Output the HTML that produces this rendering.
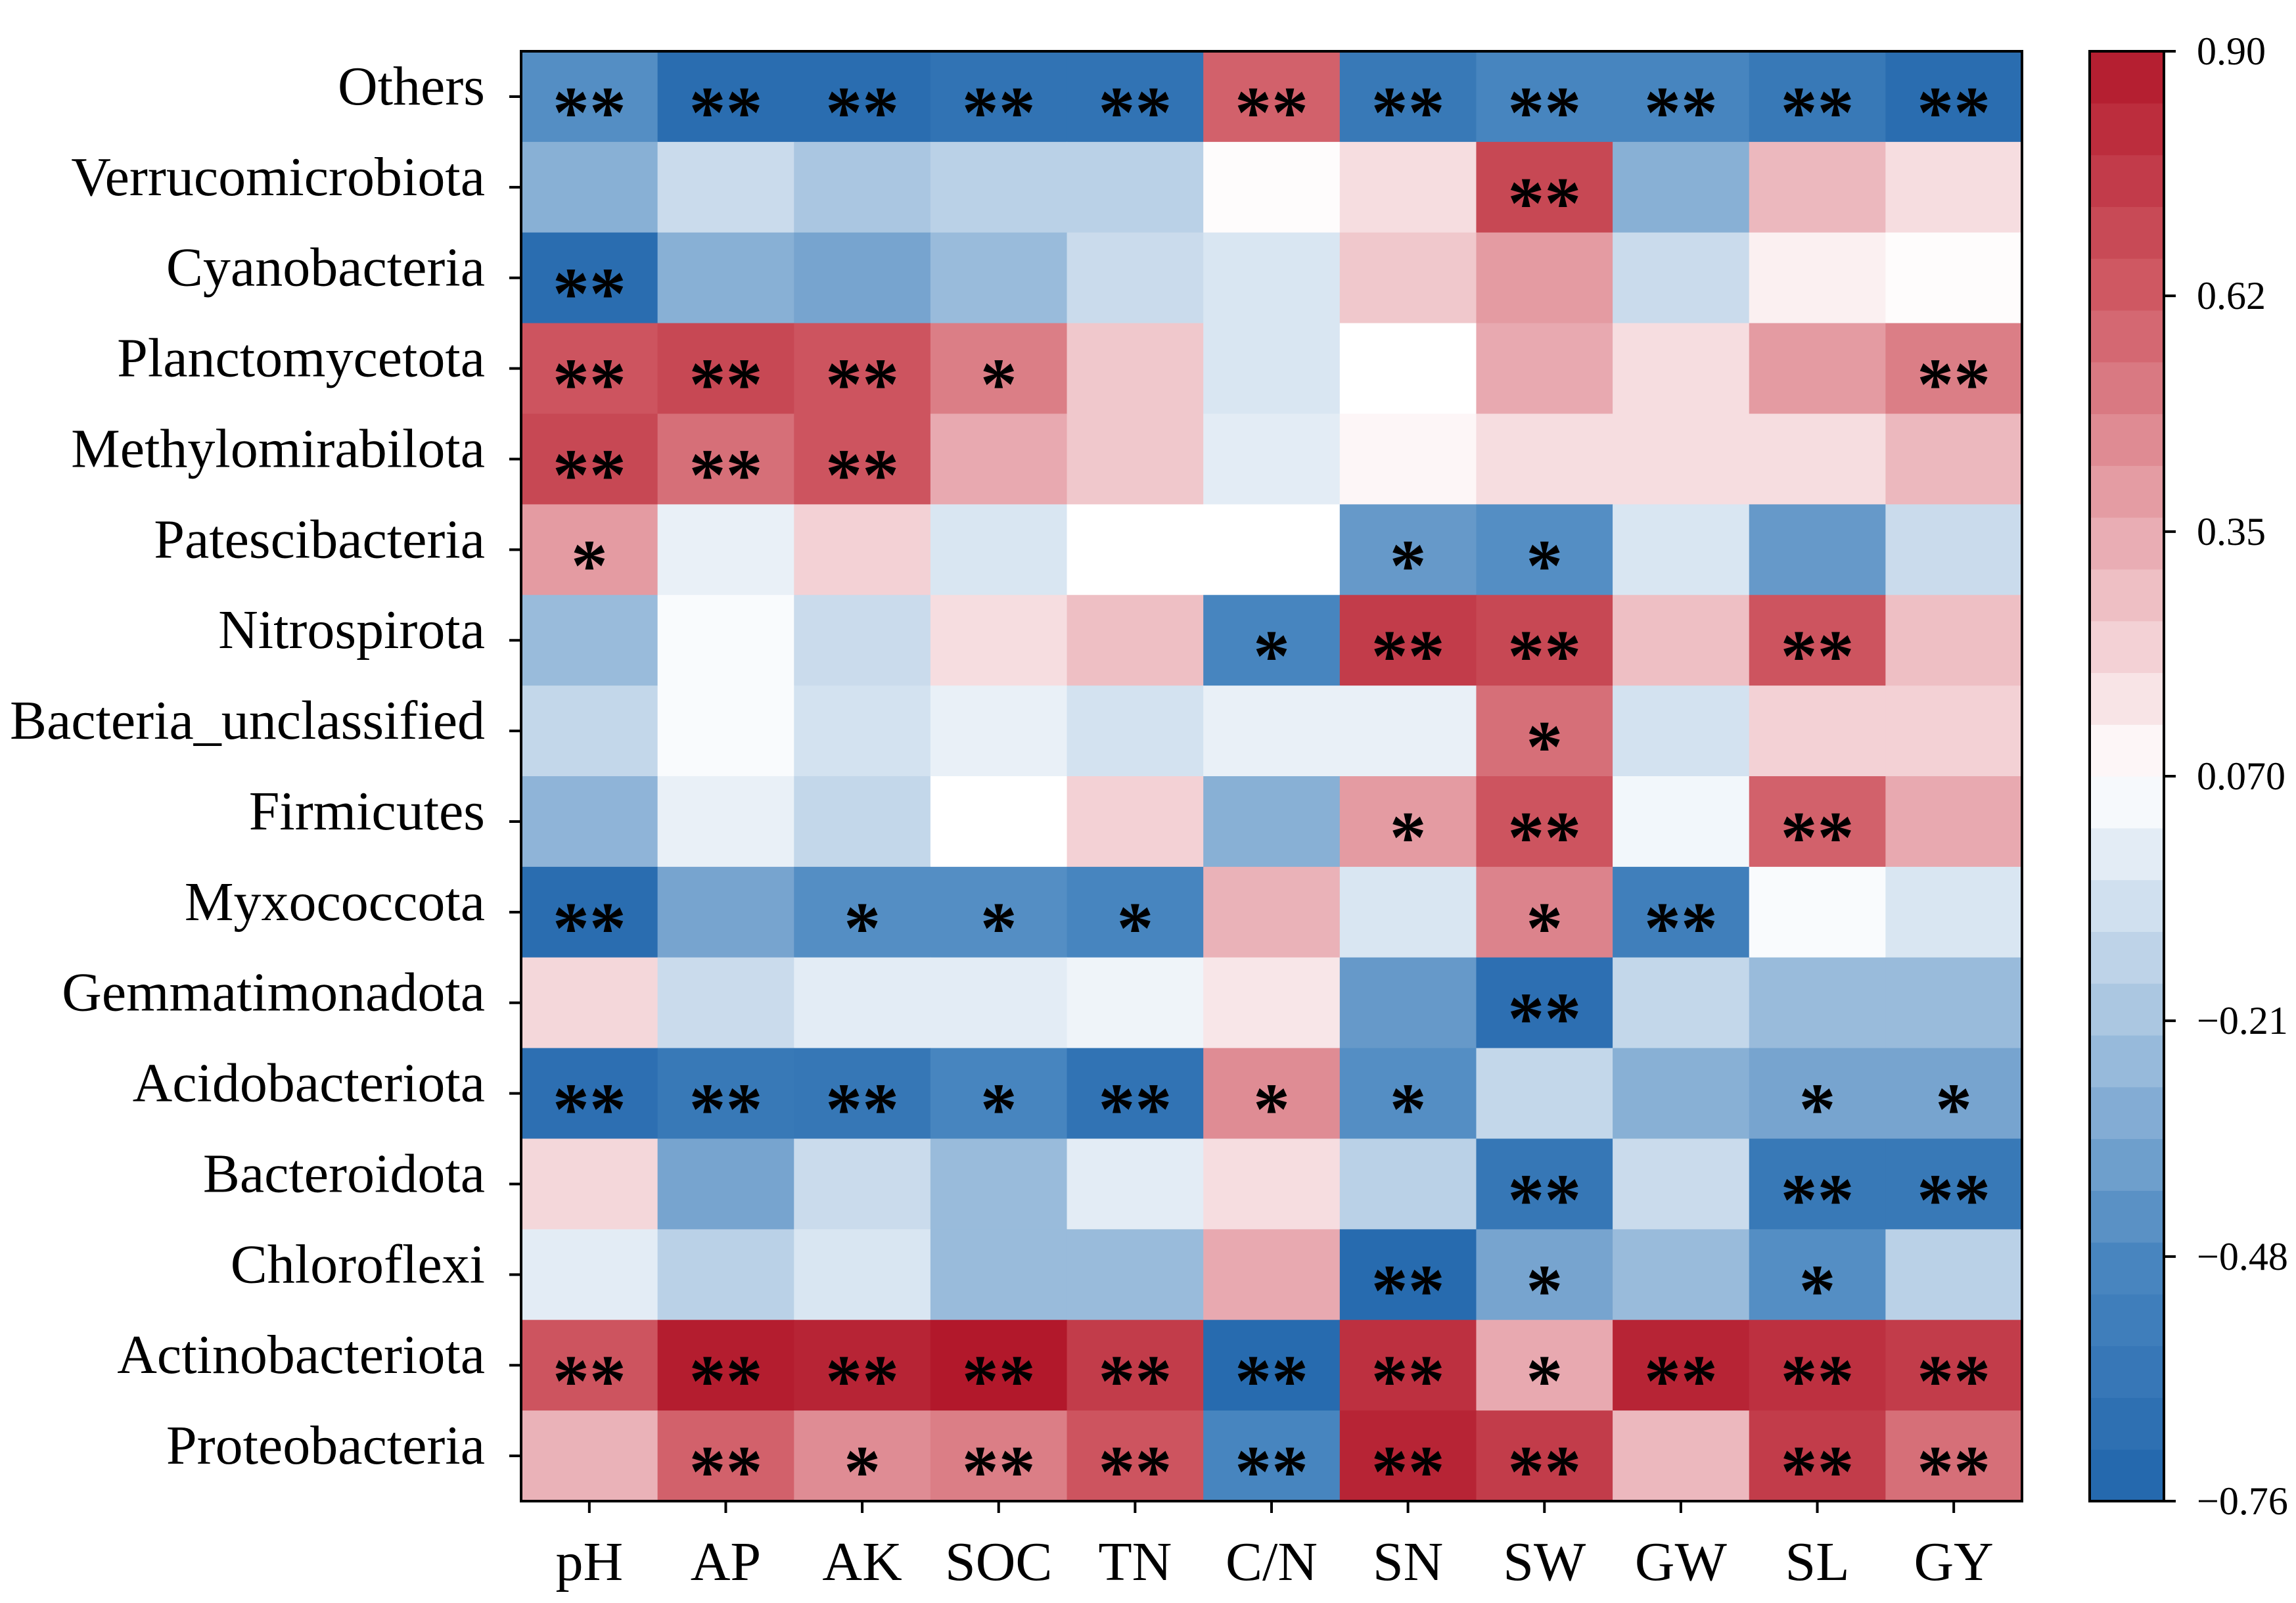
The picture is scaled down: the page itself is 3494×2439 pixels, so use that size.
<!DOCTYPE html>
<html><head><meta charset="utf-8"><style>
html,body{margin:0;padding:0;background:#fff}
svg{display:block}
text{font-family:"Liberation Serif",serif;fill:#000}
</style></head><body>
<svg id="chart" width="3494" height="2439" viewBox="0 0 3494 2439" xmlns="http://www.w3.org/2000/svg"></svg>
<script>
const rows=["Others","Verrucomicrobiota","Cyanobacteria","Planctomycetota","Methylomirabilota","Patescibacteria","Nitrospirota","Bacteria_unclassified","Firmicutes","Myxococcota","Gemmatimonadota","Acidobacteriota","Bacteroidota","Chloroflexi","Actinobacteriota","Proteobacteria"];
const cols=["pH","AP","AK","SOC","TN","C/N","SN","SW","GW","SL","GY"];
const values=[
[-0.45,-0.7,-0.7,-0.65,-0.65,0.6,-0.6,-0.5,-0.5,-0.6,-0.7],
[-0.3,-0.1,-0.2,-0.15,-0.15,0.08,0.18,0.7,-0.3,0.3,0.18],
[-0.7,-0.3,-0.35,-0.25,-0.1,-0.05,0.25,0.4,-0.1,0.12,0.08],
[0.65,0.7,0.65,0.5,0.25,-0.05,0.07,0.35,0.18,0.4,0.5],
[0.7,0.55,0.65,0.35,0.25,-0.02,0.1,0.18,0.18,0.18,0.3],
[0.4,0.0,0.22,-0.05,0.07,0.07,-0.4,-0.45,-0.05,-0.4,-0.1],
[-0.25,0.05,-0.1,0.18,0.28,-0.5,0.75,0.7,0.28,0.65,0.28],
[-0.12,0.05,-0.07,0.0,-0.07,0.0,0.0,0.55,-0.07,0.22,0.22],
[-0.28,0.0,-0.12,0.07,0.22,-0.3,0.4,0.65,0.03,0.6,0.35],
[-0.7,-0.35,-0.45,-0.45,-0.5,0.32,-0.05,0.48,-0.55,0.05,-0.05],
[0.2,-0.1,-0.02,-0.02,0.02,0.15,-0.4,-0.68,-0.12,-0.25,-0.25],
[-0.68,-0.6,-0.62,-0.5,-0.65,0.45,-0.45,-0.12,-0.3,-0.35,-0.35],
[0.2,-0.35,-0.1,-0.25,-0.02,0.18,-0.15,-0.62,-0.1,-0.6,-0.6],
[-0.02,-0.15,-0.05,-0.25,-0.25,0.35,-0.72,-0.35,-0.25,-0.45,-0.15],
[0.65,0.88,0.85,0.9,0.75,-0.72,0.8,0.35,0.85,0.8,0.75],
[0.32,0.6,0.45,0.5,0.65,-0.5,0.85,0.75,0.3,0.75,0.55]];
const sig=[
["**","**","**","**","**","**","**","**","**","**","**"],
["","","","","","","","**","","",""],
["**","","","","","","","","","",""],
["**","**","**","*","","","","","","","**"],
["**","**","**","","","","","","","",""],
["*","","","","","","*","*","","",""],
["","","","","","*","**","**","","**",""],
["","","","","","","","*","","",""],
["","","","","","","*","**","","**",""],
["**","","*","*","*","","","*","**","",""],
["","","","","","","","**","","",""],
["**","**","**","*","**","*","*","","","*","*"],
["","","","","","","","**","","**","**"],
["","","","","","","**","*","","*",""],
["**","**","**","**","**","**","**","*","**","**","**"],
["","**","*","**","**","**","**","**","","**","**"]];
const cbTicks=[0.90,0.62,0.35,0.070,-0.21,-0.48,-0.76];
const cbLabels=["0.90","0.62","0.35","0.070","\u22120.21","\u22120.48","\u22120.76"];
const vmin=-0.76,vmax=0.9;
const stops=[[-0.76,[33,102,172]],[-0.48,[74,135,192]],[-0.21,[167,196,224]],[0.07,[255,255,255]],[0.35,[232,169,176]],[0.62,[208,91,101]],[0.9,[178,24,43]]];
function color(v){v=Math.max(vmin,Math.min(vmax,v));for(let i=0;i<stops.length-1;i++){const a=stops[i],b=stops[i+1];if(v<=b[0]){const t=(v-a[0])/(b[0]-a[0]);const c=a[1].map((x,k)=>Math.round(x+(b[1][k]-x)*t));return `rgb(${c})`;}}return "rgb(178,24,43)";}
const X0=793,X1=3077,Y0=78,Y1=2284;
const cw=(X1-X0)/cols.length,ch=(Y1-Y0)/rows.length;
const xPos=j=>X0+j*cw, yPos=i=>Y0+i*ch;
const CB0=3180,CB1=3293;
const cbY=v=>Y1-(v-vmin)/(vmax-vmin)*(Y1-Y0);
const svg=document.getElementById('chart');
const NS="http://www.w3.org/2000/svg";
function mk(t,a,p){const e=document.createElementNS(NS,t);for(const k in a)e.setAttribute(k,a[k]);(p||svg).appendChild(e);return e;}
const g=mk('g',{});


rows.forEach((r,i)=>cols.forEach((c,j)=>{
 const rc=mk('rect',{x:xPos(j),y:yPos(i),width:cw+0.6,height:ch+0.6,fill:color(values[i][j])},g);
 
 
 if(sig[i][j]){const t=mk('text',{x:xPos(j)+cw/2,y:yPos(i)+ch*0.95,'text-anchor':'middle','font-size':112,'font-weight':'bold','font-family':'Liberation Sans, sans-serif'},g);t.textContent=sig[i][j];
 
 }
}));
const fr=mk('rect',{x:X0,y:Y0,width:X1-X0,height:Y1-Y0,fill:'none',stroke:'#000','stroke-width':4});


rows.forEach((r,i)=>{const y=yPos(i)+ch/2;mk('line',{x1:X0-18,x2:X0,y1:y,y2:y,stroke:'#000','stroke-width':4});
 const t=mk('text',{x:X0-55,y:y+12,'text-anchor':'end','font-size':84});t.textContent=r;
 
 });
cols.forEach((c,j)=>{const x=xPos(j)+cw/2;mk('line',{x1:x,x2:x,y1:Y1,y2:Y1+18,stroke:'#000','stroke-width':4});
 const t=mk('text',{x:x,y:Y1+120,'text-anchor':'middle','font-size':84});t.textContent=c;
 
 });
const cb=mk('g',{});


const N=28;for(let k=0;k<N;k++){const v0=vmin+(vmax-vmin)*k/N,v1=vmin+(vmax-vmin)*(k+1)/N;
 mk('rect',{x:CB0,y:cbY(v1),width:CB1-CB0,height:cbY(v0)-cbY(v1)+0.6,fill:color((v0+v1)/2)},cb);}
mk('rect',{x:CB0,y:Y0,width:CB1-CB0,height:Y1-Y0,fill:'none',stroke:'#000','stroke-width':4},cb);
cbTicks.forEach((v,k)=>{const y=cbY(v);mk('line',{x1:CB1,x2:CB1+18,y1:y,y2:y,stroke:'#000','stroke-width':4},cb);
 const t=mk('text',{x:CB1+50,y:y+20,'font-size':60},cb);t.textContent=cbLabels[k];
 
 });
</script>
</body></html>
